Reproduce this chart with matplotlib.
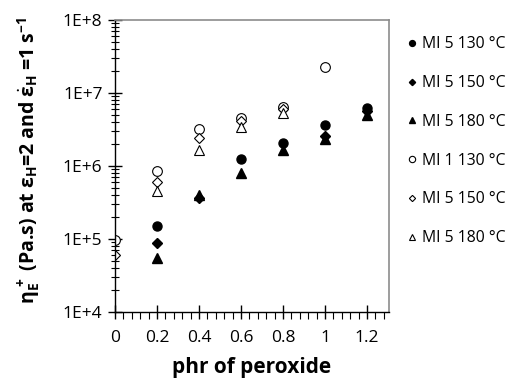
import numpy as np
import matplotlib
matplotlib.use('Agg')
import matplotlib.pyplot as plt
from matplotlib.ticker import LogLocator, FixedLocator

plt.rcParams['font.family'] = ['Open Sans', 'DejaVu Sans']
plt.rcParams['mathtext.fontset'] = 'custom'
plt.rcParams['mathtext.rm'] = 'Open Sans'
plt.rcParams['mathtext.it'] = 'Open Sans'
plt.rcParams['mathtext.bf'] = 'Open Sans:bold'

# values
series_labels = ['MI 5 130 °C', 'MI 5 150 °C', 'MI 5 180 °C',
                 'MI 1 130 °C', 'MI 5 150 °C', 'MI 5 180 °C']

x_mi5_130 = [0.2, 0.6, 0.8, 1.0, 1.2]
y_mi5_130 = [1.5e5, 1.23e6, 2.05e6, 3.6e6, 6.2e6]

x_mi5_150 = [0.2, 0.4, 1.0, 1.2]
y_mi5_150 = [8.9e4, 3.6e5, 2.6e6, 5.6e6]

x_mi5_180 = [0.2, 0.4, 0.6, 0.8, 1.0, 1.2]
y_mi5_180 = [5.5e4, 4.0e5, 7.9e5, 1.66e6, 2.35e6, 5.0e6]

x_mi1_130_o = [0.0, 0.2, 0.4, 0.6, 0.8, 1.0]
y_mi1_130_o = [9.7e4, 8.6e5, 3.2e6, 4.6e6, 6.5e6, 2.25e7]

x_mi5_150_o = [0.0, 0.2, 0.4, 0.6, 0.8]
y_mi5_150_o = [6.0e4, 6.1e5, 2.4e6, 4.2e6, 6.0e6]

x_mi5_180_o = [0.2, 0.4, 0.6, 0.8]
y_mi5_180_o = [4.5e5, 1.66e6, 3.4e6, 5.4e6]

x_ticks = [0, 0.2, 0.4, 0.6, 0.8, 1.0, 1.2]
x_ticklabels = ['0', '0.2', '0.4', '0.6', '0.8', '1', '1.2']
y_ticks = [1e4, 1e5, 1e6, 1e7, 1e8]
y_ticklabels = ['1E+4', '1E+5', '1E+6', '1E+7', '1E+8']

fig = plt.figure(figsize=(5.15, 3.8), dpi=100)
ax = fig.add_axes([115 / 515, 1 - 312 / 380, 274 / 515, 292 / 380])

ms = 6.5
ax.plot(x_mi5_130, y_mi5_130, 'o', color='black', ms=ms, label=series_labels[0])
ax.plot(x_mi5_150, y_mi5_150, 'D', color='black', ms=ms * 0.75, label=series_labels[1])
ax.plot(x_mi5_180, y_mi5_180, '^', color='black', ms=ms, label=series_labels[2])
ax.plot(x_mi1_130_o, y_mi1_130_o, 'o', mfc='white', mec='black', mew=0.8, ms=ms + 0.5, label=series_labels[3])
ax.plot(x_mi5_150_o, y_mi5_150_o, 'D', mfc='white', mec='black', mew=0.8, ms=ms * 0.75, label=series_labels[4])
ax.plot(x_mi5_180_o, y_mi5_180_o, '^', mfc='white', mec='black', mew=0.8, ms=ms, label=series_labels[5])

ax.set_yscale('log')
ax.set_ylim(1e4, 1e8)
ax.set_xlim(0, 1.305)
ax.xaxis.set_major_locator(FixedLocator(x_ticks))
ax.xaxis.set_minor_locator(FixedLocator(np.arange(0, 1.281, 0.04)))
ax.set_xticklabels(x_ticklabels)
ax.yaxis.set_minor_locator(LogLocator(base=10, subs=np.arange(2, 10), numticks=10))
ax.set_yticks(y_ticks)
ax.set_yticklabels(y_ticklabels)

ax.tick_params(axis='both', which='major', direction='inout', length=10, width=1,
               labelsize=12.5, color='black', pad=4)
ax.tick_params(axis='y', which='minor', direction='inout', length=6, width=0.8)
ax.tick_params(axis='x', which='minor', direction='out', length=5, width=0.8)
ax.tick_params(axis='x', which='major', pad=8)

for s in ['left', 'bottom']:
    ax.spines[s].set_color('black')
    ax.spines[s].set_linewidth(1.0)
for s in ['top', 'right']:
    ax.spines[s].set_color('#8c8c8c')
    ax.spines[s].set_linewidth(1.2)

ax.set_xlabel('phr of peroxide', fontsize=15, fontweight='bold')
ax.xaxis.set_label_coords(0.5, -0.155)
ax.set_ylabel(r'$\mathbf{η_E^{\,+}}$ (Pa.s) at $\mathbf{ε_H}$=2 and $\mathbf{\dot{ε}_H}$ =1 s$^\mathbf{-1}$',
              fontsize=14, fontweight='bold')
ax.yaxis.set_label_coords(-0.265, 0.52)

leg = fig.legend(loc='upper left', bbox_to_anchor=(401 / 515, 1 - 30 / 380), frameon=False,
                 fontsize=11.3, labelspacing=1.45, handlelength=0.6, handletextpad=0.35,
                 markerscale=0.65, borderaxespad=0)

fig.savefig('out.png', dpi=100)
